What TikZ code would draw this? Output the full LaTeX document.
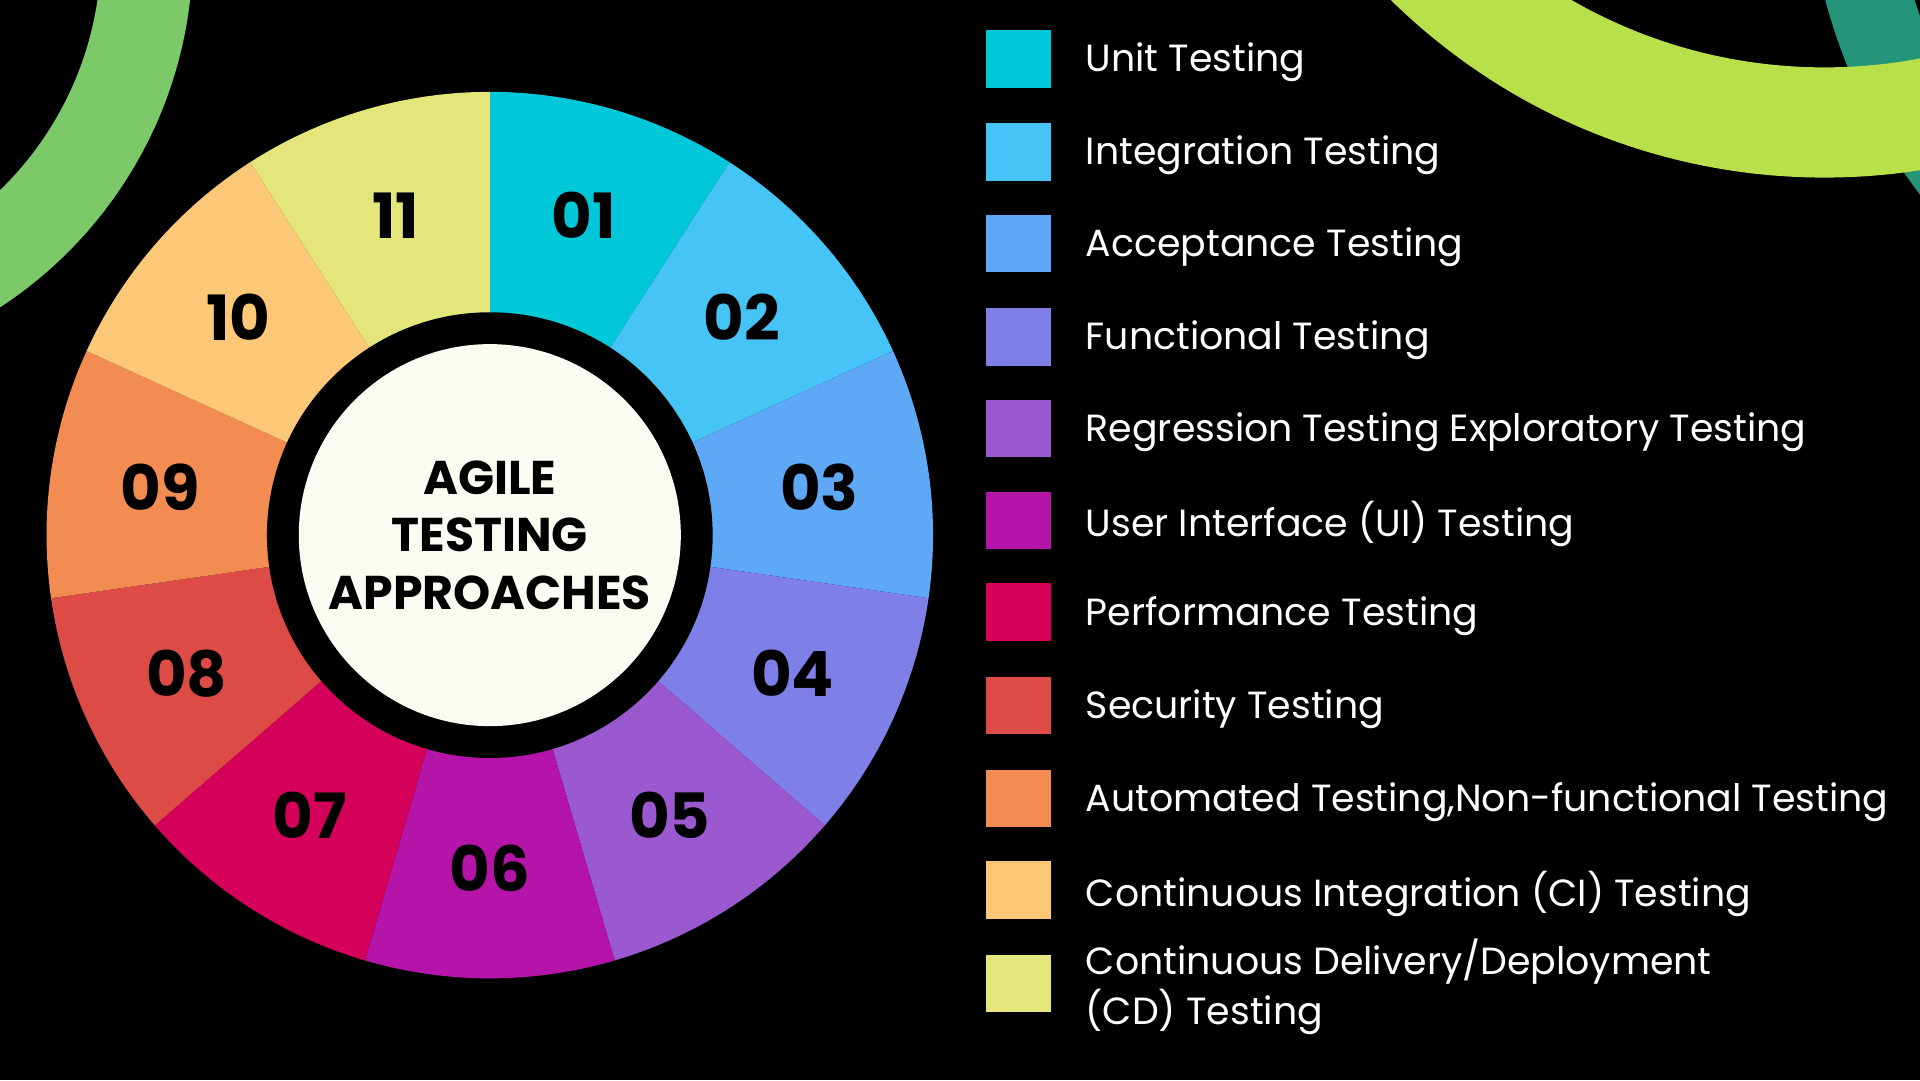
\documentclass[tikz,border=0pt]{standalone}
\usepackage{fontspec}
\setmainfont{Poppins}
\usetikzlibrary{calc}
\definecolor{segA}{HTML}{00C8D8}
\definecolor{segB}{HTML}{45C4F5}
\definecolor{segC}{HTML}{5EA8F5}
\definecolor{segD}{HTML}{7E80E8}
\definecolor{segE}{HTML}{9B59D0}
\definecolor{segF}{HTML}{B414A8}
\definecolor{segG}{HTML}{D4005A}
\definecolor{segH}{HTML}{DC4B45}
\definecolor{segI}{HTML}{F28C52}
\definecolor{segJ}{HTML}{FCC878}
\definecolor{segK}{HTML}{E4E67C}
\definecolor{leafgreen}{HTML}{7CC96A}
\definecolor{limegreen}{HTML}{B8E04A}
\definecolor{paper}{HTML}{FCFBF3}
\tikzset{
  numlabel/.style={font=\fontsize{14.5}{15}\selectfont\bfseries},
  keybox/.style={minimum width=0.53cm,minimum height=0.47cm,inner sep=0pt},
  keytext/.style={anchor=west,text=white,font=\fontsize{8.8}{11.6}\selectfont,align=left,inner sep=0pt}
}
\begin{document}
\begin{tikzpicture}
  \fill[black] (0,0) rectangle (15.68,-8.82);
  \useasboundingbox (0,0) rectangle (15.68,-8.82);
  % background arcs
  \begin{scope}
    \clip (0,0) rectangle (15.68,-8.82);
    \draw[leafgreen,line width=0.75cm] (-1.9,0.4) circle (3.1cm);
    \draw[teal!70!leafgreen,line width=0.7cm] (19.4,1.2) circle (4.3cm);
    \draw[limegreen,line width=0.9cm] (14.9,3.6) circle (4.6cm);
  \end{scope}
  % wheel
  \coordinate (hub) at (4.00,-4.37);
  \foreach \col [count=\i] in {segA,segB,segC,segD,segE,segF,segG,segH,segI,segJ,segK}{
    \pgfmathsetmacro{\startang}{90-(\i-1)*360/11}
    \pgfmathsetmacro{\midang}{\startang-180/11}
    \fill[\col] (hub) -- ++(\startang:3.62cm) arc[start angle=\startang,delta angle=-360/11,radius=3.62cm] -- cycle;
    \node[numlabel] (num\i) at ($(hub)+(\midang:2.72cm)$) {\ifnum\i<10 0\fi\i};
  }
  \fill[black] (hub) circle (1.82cm);
  \fill[paper] (hub) circle (1.56cm);
  \node[font=\fontsize{11}{13.3}\selectfont\bfseries,align=center] (title) at (hub) {AGILE\\TESTING\\APPROACHES};
  % key
  \foreach \col/\ypos/\txt [count=\i] in {
      segA/0.48/Unit Testing,
      segB/1.24/Integration Testing,
      segC/1.99/Acceptance Testing,
      segD/2.75/Functional Testing,
      segE/3.50/Regression Testing Exploratory Testing,
      segF/4.25/User Interface (UI) Testing,
      segG/5.00/Performance Testing,
      segH/5.76/Security Testing,
      segI/6.52/{Automated Testing,Non-functional Testing},
      segJ/7.27/Continuous Integration (CI) Testing,
      segK/8.03/{Continuous Delivery/Deployment\\(CD) Testing}}{
    \node[keybox,fill=\col] (box\i) at (8.315,-\ypos) {};
    \node[keytext] (key\i) at (8.86,-\ypos-0.03) {\txt};
  }
\end{tikzpicture}
\end{document}
